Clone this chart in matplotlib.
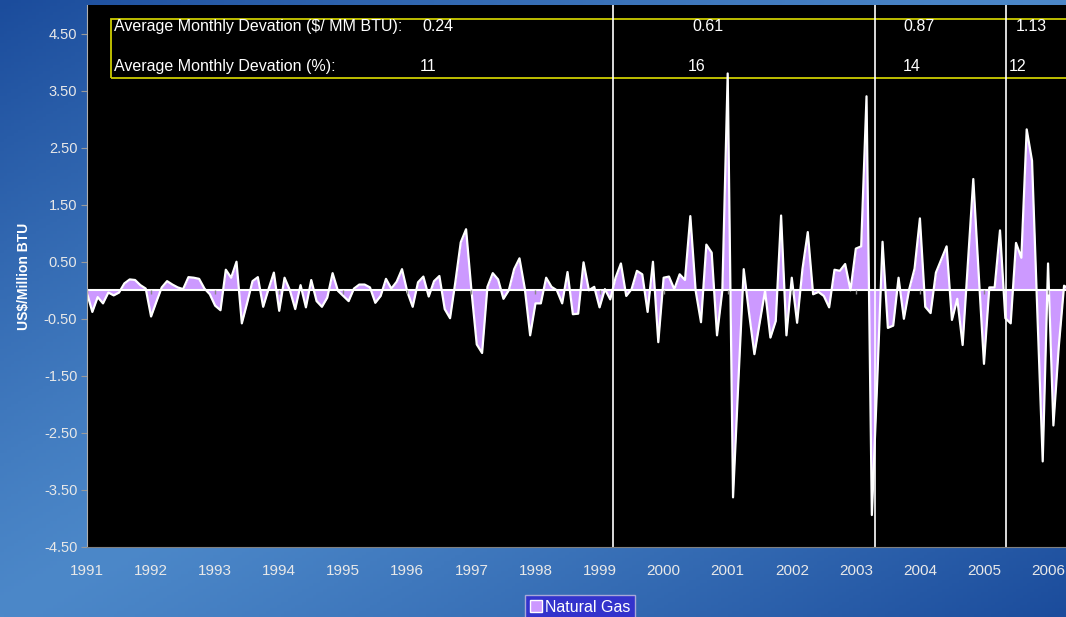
import numpy as np
import matplotlib
matplotlib.use("Agg")
import matplotlib.pyplot as plt
from matplotlib.patches import Rectangle, Patch

plt.rcParams["font.family"] = ["Liberation Sans", "DejaVu Sans"]

# monthly deviation of natural gas price, Jan 1991 onwards (US$/Million BTU)
deviation = [
    -0.05, -0.38, -0.12, -0.23, -0.04, -0.09, -0.04, 0.12, 0.19, 0.18, 0.09, 0.03,
    -0.46, -0.20, 0.05, 0.16, 0.10, 0.05, 0.02, 0.23, 0.22, 0.20, 0.03, -0.07,
    -0.27, -0.35, 0.36, 0.22, 0.50, -0.58, -0.22, 0.16, 0.23, -0.29, 0.02, 0.31,
    -0.36, 0.22, 0.00, -0.33, 0.09, -0.30, 0.18, -0.19, -0.29, -0.13, 0.30, -0.01,
    -0.10, -0.19, 0.03, 0.10, 0.10, 0.05, -0.22, -0.10, 0.20, 0.03, 0.15, 0.37,
    -0.03, -0.29, 0.14, 0.24, -0.11, 0.16, 0.25, -0.33, -0.49, 0.15, 0.84, 1.07,
    0.00, -0.95, -1.10, 0.06, 0.30, 0.19, -0.15, 0.00, 0.37, 0.56, 0.03, -0.79,
    -0.23, -0.23, 0.22, 0.06, 0.00, -0.23, 0.32, -0.42, -0.41, 0.49, 0.00, 0.06,
    -0.30, 0.02, -0.16, 0.22, 0.47, -0.10, 0.02, 0.34, 0.28, -0.38, 0.50, -0.91,
    0.22, 0.24, 0.02, 0.28, 0.18, 1.30, -0.01, -0.56, 0.80, 0.66, -0.79, 0.00,
    3.80, -3.63, -1.60, 0.37, -0.40, -1.12, -0.57, -0.01, -0.83, -0.54, 1.31, -0.79,
    0.22, -0.57, 0.37, 1.02, -0.07, -0.03, -0.10, -0.30, 0.36, 0.34, 0.46, 0.00,
    0.73, 0.77, 3.40, -3.94, -1.60, 0.85, -0.66, -0.62, 0.22, -0.50, 0.02, 0.38,
    1.26, -0.29, -0.40, 0.31, 0.54, 0.77, -0.52, -0.15, -0.96, 0.50, 1.95, 0.30,
    -1.29, 0.05, 0.05, 1.05, -0.49, -0.58, 0.83, 0.57, 2.82, 2.27, -0.40, -3.00,
    0.47, -2.37, -1.00, 0.08, 0.02,
]
years = list(range(1991, 2007))
# period boundaries (months since Jan 1991)
breaks = [98.5, 147.6, 172.1]
avg_dev_usd = ["0.24", "0.61", "0.87", "1.13"]
avg_dev_pct = ["11", "16", "14", "12"]

W, H = 1066, 617
fig = plt.figure(figsize=(W / 100, H / 100), dpi=100)

# blue diagonal gradient backdrop
bg = fig.add_axes([0, 0, 1, 1], zorder=-10)
u, v = np.meshgrid(np.linspace(0, 1, 300), np.linspace(1, 0, 200))
d = np.abs(u - v)
dark = np.array([0x1b, 0x4c, 0x9c]) / 255
light = np.array([0x4c, 0x88, 0xc9]) / 255
t = np.clip(d, 0, 1)[..., None] ** 1.2
bg.imshow(light * (1 - t) + dark * t, aspect="auto", extent=[0, 1, 0, 1])
bg.axis("off")

x0, y_bot, y_top = 87, 547, 5
ax = fig.add_axes([x0 / W, (H - y_bot) / H, 1 - x0 / W, (y_bot - y_top) / H])
ax.set_facecolor("black")

x = np.arange(len(deviation))
vals = np.array(deviation)
ax.fill_between(x, vals, 0, color="#cc99ff", lw=0)
ax.plot(x, vals, color="white", lw=1.6)
ax.axhline(0, color="white", lw=1.5)

for b in breaks:
    ax.axvline(b, color="white", lw=1.2)

month_w = 64.07 / 12
ax.set_xlim(0, (W - x0) / month_w)
ax.set_ylim(-4.5, 5.0)

yt = np.arange(-4.5, 4.6, 1.0)
ax.set_yticks(yt)
ax.set_yticklabels([f"{t:.2f}" for t in yt])
ax.set_xticks([(y - 1991) * 12 for y in years])
ax.set_xticklabels([str(y) for y in years])
ax.tick_params(axis="y", colors="#9a9a9a", labelcolor="#e8e8e8", labelsize=10.5, length=4, pad=3)
ax.tick_params(axis="x", length=0, labelcolor="#e8e8e8", labelsize=11, pad=12)
ax.vlines([(y - 1991) * 12 for y in years], -0.07, 0, color="#888888", lw=1)

for s in ["top", "right"]:
    ax.spines[s].set_visible(False)
ax.spines["left"].set_color("#b0b0b0")
ax.spines["bottom"].set_color("#808080")

ax.set_ylabel("US$/Million BTU", color="white", fontsize=10, fontweight="bold", labelpad=9)

# summary box with average deviation per period
box = Rectangle((23.5 / 979, 0.865), 1.2, 0.11, transform=ax.transAxes,
                fill=False, edgecolor="#cccc00", lw=1.3, clip_on=False)
ax.add_patch(box)
row1, row2 = 0.960, 0.886
fs = 11.5
ax.text(27 / 979, row1, "Average Monthly Devation ($/ MM BTU):", transform=ax.transAxes,
        color="white", fontsize=fs, va="center")
ax.text(27 / 979, row2, "Average Monthly Devation (%):", transform=ax.transAxes,
        color="white", fontsize=fs, va="center")
usd_x = [422, 692, 903, 1016]
pct_x = [420, 688, 903, 1009]
for px, s in zip(usd_x, avg_dev_usd):
    ax.text((px - x0) / 979, row1, s, transform=ax.transAxes, color="white", fontsize=fs, va="center")
for px, s in zip(pct_x, avg_dev_pct):
    ax.text((px - x0) / 979, row2, s, transform=ax.transAxes, color="white", fontsize=fs, va="center")

leg = fig.legend(handles=[Patch(facecolor="#cc99ff", edgecolor="white", label="Natural Gas")],
                 loc="upper center", bbox_to_anchor=(580 / W, 1 - 595 / H), frameon=True,
                 fontsize=11.5, handlelength=0.75, handleheight=0.75, handletextpad=0.2,
                 borderpad=0.3, borderaxespad=0, fancybox=False, labelcolor="white")
leg.get_frame().set_facecolor("#3333cc")
leg.get_frame().set_edgecolor("#a8a8d8")
leg.get_frame().set_alpha(1)

fig.savefig("out.png", dpi=100)
